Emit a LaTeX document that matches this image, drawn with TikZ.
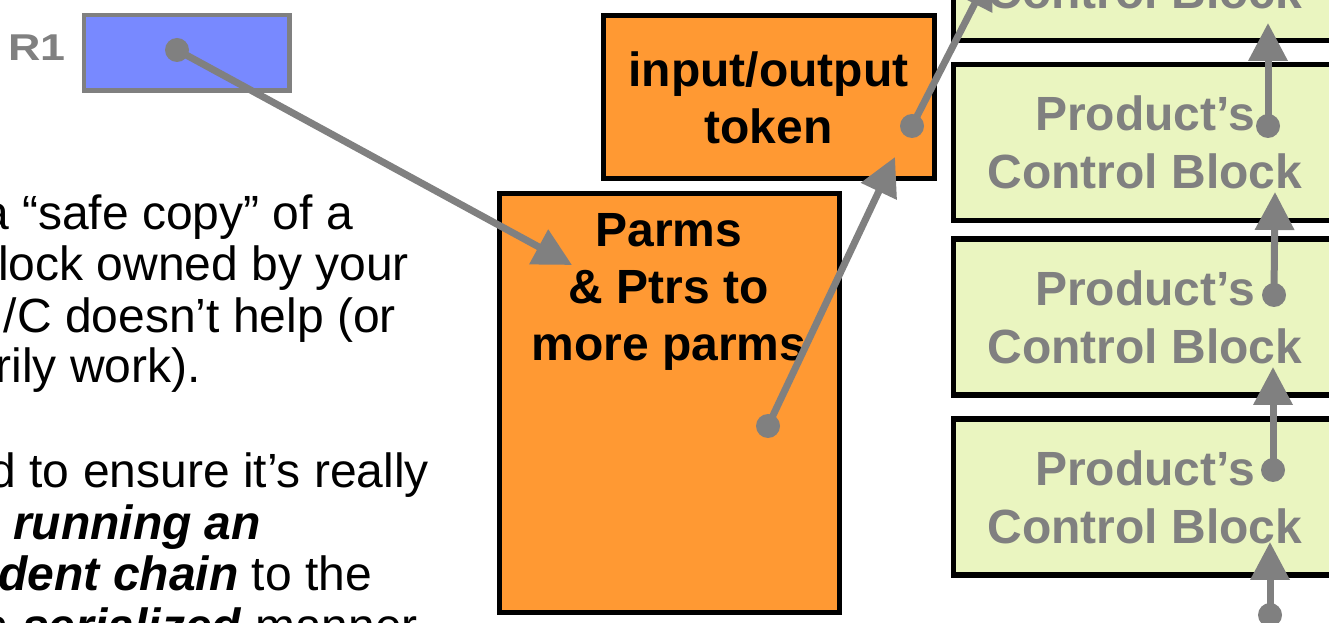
\documentclass[tikz,border=0pt]{standalone}
\usepackage{fontspec}
\setmainfont{Liberation Sans}
\usetikzlibrary{arrows.meta}
\definecolor{boxorange}{RGB}{255,153,51}
\definecolor{regblue}{RGB}{120,137,255}
\definecolor{cbgreen}{RGB}{234,245,192}
\definecolor{ptrgray}{RGB}{128,128,128}
\newcommand\boxfont{\fontsize{36}{42.75}\selectfont\bfseries}
\newcommand\cbfont{\fontsize{36}{43.5}\selectfont\bfseries}
\begin{document}
\begin{tikzpicture}[x=0.75pt,y=-0.75pt,
  every node/.style={inner sep=0pt,outer sep=0pt},
  para/.style={anchor=base east,font=\fontsize{36}{38}\selectfont},
  regbox/.style={draw=ptrgray,line width=3.4pt,fill=regblue,
    minimum width=154.1pt,minimum height=56.6pt},
  orangebox/.style={draw=black,line width=3.75pt,fill=boxorange},
  cbbox/.style={draw=black,line width=4pt,fill=cbgreen,
    minimum width=287.25pt,minimum height=117pt,
    align=center,text=ptrgray,font=\cbfont},
  ptrdot/.style={circle,fill=ptrgray,minimum size=18pt},
  ptr/.style={draw=ptrgray,line width=5.25pt,
    -{Triangle[length=28.5pt,width=28.5pt]}},
]
\useasboundingbox (0,0) rectangle (1329,623);
\fill[white] (0,0) rectangle (1329,623);
\clip (0,0) rectangle (1329,623);

% register and its label
\node[anchor=base,text=ptrgray,font=\fontsize{28}{32}\selectfont\bfseries]
  (r1label) at (37,61) {\scalebox{1.2}[1]{R1}};
\node[regbox] (r1) at (186.75,52.75) {};

% body text
\node[para] (l1) at (353,230) {a “safe copy” of a};
\node[para] (l2) at (409,281) {lock owned by your};
\node[para] (l3) at (396,333) {/C doesn’t help (or};
\node[para] (l4) at (201,383) {necessarily work).};
\node[para] (l6) at (429,488) {d to ensure it’s really};
\node[para] (l7) at (261,540) {\textbf{\textit{running an}}};
\node[para] (l8) at (372,590) {\textbf{\textit{independent chain}} to the};
\node[para] (l9) at (418,642) {in a \textbf{\textit{serialized}} manner};

% parameter list and token
\node[orangebox,minimum width=248.25pt,minimum height=122.25pt,
  align=center,font=\boxfont] (io) at (768.5,97.5) {input/output\\token};
\node[orangebox,minimum width=255pt,minimum height=314.6pt]
  (parms) at (669,403.25) {};
\node[anchor=north,align=center,font=\boxfont]
  (parmstext) at (669,213) {Parms\\\& Ptrs to\\more parms};

% chain of product control blocks
\node[cbbox] (cb1) at (1145,-37.5) {Product’s\\Control Block};
\node[cbbox] (cb2) at (1145,142.5) {Product’s\\Control Block};
\node[cbbox] (cb3) at (1145,317) {Product’s\\Control Block};
\node[cbbox] (cb4) at (1145,497) {Product’s\\Control Block};

% pointer origins
\node[ptrdot] (d1) at (177,50) {};
\node[ptrdot] (d2) at (768,426) {};
\node[ptrdot] (d3) at (912,126) {};
\node[ptrdot] (d4) at (1268,126) {};
\node[ptrdot] (d5) at (1274,295) {};
\node[ptrdot] (d6) at (1273,470) {};
\node[ptrdot] (d7) at (1270,615) {};

% pointer targets
\coordinate (t1) at (572,265);
\coordinate (t2) at (895,157);
\coordinate (t3) at (992,-30);
\coordinate (t4) at (1268,23);
\coordinate (t5) at (1275,192);
\coordinate (t6) at (1273,367);
\coordinate (t7) at (1270,542);

\draw[ptr] (d1.center) -- (t1);
\draw[ptr] (d2.center) -- (t2);
\draw[ptr] (d3.center) -- (t3);
\draw[ptr] (d4.center) -- (t4);
\draw[ptr] (d5.center) -- (t5);
\draw[ptr] (d6.center) -- (t6);
\draw[ptr] (d7.center) -- (t7);
\end{tikzpicture}
\end{document}
